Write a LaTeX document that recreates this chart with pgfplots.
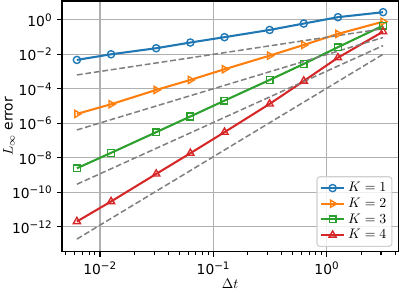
\documentclass[border=0pt]{standalone}
\usepackage{pgfplots}
\pgfplotsset{compat=1.18}
\usepackage{fontspec}
\setmainfont{DejaVu Sans}
\definecolor{c1}{HTML}{1F77B4}
\definecolor{c2}{HTML}{FF7F0E}
\definecolor{c3}{HTML}{2CA02C}
\definecolor{c4}{HTML}{D62728}
\definecolor{gridc}{HTML}{B0B0B0}
\newcommand\E[1]{10\textsuperscript{\fontsize{7.5}{8}\selectfont #1}}
\begin{document}
\begin{tikzpicture}
\path[use as bounding box] (-44.7bp,-26.7bp) rectangle (242.9bp,181.6bp);
\begin{loglogaxis}[
  at={(0,0)}, anchor=south west,
  scale only axis,
  width=242.5bp, height=180.9bp,
  xmin=0.00462, xmax=4.27,
  ymin=3.5e-14, ymax=12.6,
  xtick={0.01,0.1,1},
  xticklabels={\E{−2},\E{−1},\E{0}},
  minor xtick={0.005,0.006,0.007,0.008,0.009,0.02,0.03,0.04,0.05,0.06,0.07,0.08,0.09,0.2,0.3,0.4,0.5,0.6,0.7,0.8,0.9,2,3,4},
  ytick={1,1e-2,1e-4,1e-6,1e-8,1e-10,1e-12},
  yticklabels={\E{0},\E{−2},\E{−4},\E{−6},\E{−8},\E{−10},\E{−12}},
  minor ytick={},
  tick align=outside,
  xtick pos=bottom, ytick pos=left,
  major tick length=3.5pt, minor tick length=2pt,
  tick style={line width=0.8pt, black},
  axis line style={line width=0.8pt},
  xmajorgrids, ymajorgrids,
  major grid style={line width=0.8pt, gridc},
  xlabel={$\Delta t$},
  ylabel={$L_\infty$ error},
  xlabel style={at={(axis description cs:0.5,-0.125)}, anchor=center},
  ylabel style={at={(axis description cs:-0.158,0.5)}, anchor=center},
  every axis plot/.append style={line width=1.5pt},
  legend style={at={(0.982,0.02)}, anchor=south east, rounded corners=2pt,
    draw=gridc!60, line width=0.8pt, fill=white, fill opacity=0.8, text opacity=1,
    inner sep=2pt, row sep=-1pt},
  legend cell align=left,
]
\addplot[c1, mark=o, mark size=2.6pt, mark options={fill=none, line width=1pt}] coordinates {
(0.00625,4.8e-3)(0.0125,1.02e-2)(0.03125,2.29e-2)(0.0625,4.9e-2)(0.125,0.1)(0.3125,0.263)(0.625,0.617)(1.25,1.445)(3.125,2.82)};
\addlegendentry{$K=1$}
\addplot[c2, mark=triangle, mark size=3pt, mark options={rotate=-90, fill=none, line width=1pt}] coordinates {
(0.00625,3.55e-6)(0.0125,1.29e-5)(0.03125,8.7e-5)(0.0625,3.31e-4)(0.125,1.38e-3)(0.3125,8.5e-3)(0.625,3.55e-2)(1.25,0.155)(3.125,0.794)};
\addlegendentry{$K=2$}
\addplot[c3, mark=square, mark size=2.4pt, mark options={fill=none, line width=1pt}] coordinates {
(0.00625,2.5e-9)(0.0125,1.95e-8)(0.03125,3.09e-7)(0.0625,2.51e-6)(0.125,2.09e-5)(0.3125,3.31e-4)(0.625,2.82e-3)(1.25,2.63e-2)(3.125,0.468)};
\addlegendentry{$K=3$}
\addplot[c4, mark=triangle, mark size=3pt, mark options={fill=none, line width=1pt}] coordinates {
(0.00625,2.04e-12)(0.0125,2.95e-11)(0.03125,1.17e-9)(0.0625,1.86e-8)(0.125,3.09e-7)(0.3125,1.35e-5)(0.625,2.88e-4)(1.25,6.46e-3)(3.125,0.209)};
\addlegendentry{$K=4$}
\addplot[gray, line width=1.1pt, dash pattern=on 4.2pt off 2pt, forget plot] coordinates {(0.00625,6.46e-4)(3.125,0.309)};
\addplot[gray, line width=1.1pt, dash pattern=on 4.2pt off 2pt, forget plot] coordinates {(0.00625,4.17e-7)(3.125,0.0955)};
\addplot[gray, line width=1.1pt, dash pattern=on 4.2pt off 2pt, forget plot] coordinates {(0.00625,2.95e-10)(3.125,0.0324)};
\addplot[gray, line width=1.1pt, dash pattern=on 4.2pt off 2pt, forget plot] coordinates {(0.00625,1.95e-13)(3.125,0.0102)};
\end{loglogaxis}
\end{tikzpicture}
\end{document}
